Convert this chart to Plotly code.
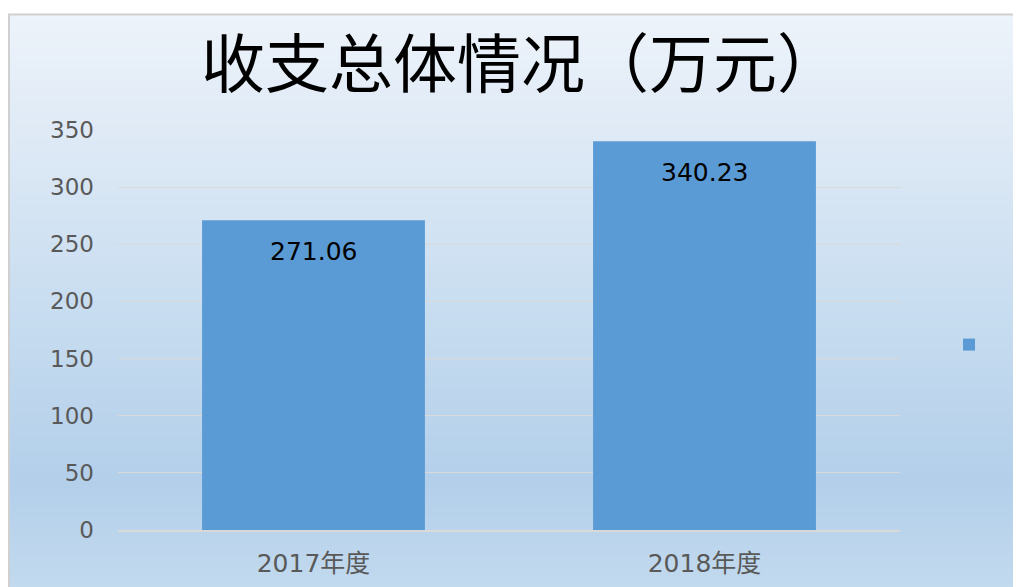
import base64
import struct
import zlib
import plotly.graph_objects as go

# ---- data ----
categories = ["2017年度", "2018年度"]
values = [271.06, 340.23]
value_labels = ["271.06", "340.23"]
y_ticks = [0, 50, 100, 150, 200, 250, 300, 350]
title_text = "收支总体情况（万元）"

# ---- styling ----
BAR_COLOR = "#5b9bd5"
GRID_COLOR = "#d9d9d9"
TICK_COLOR = "#595959"
W, H = 1021, 587
ML, MT = 110, 122
PW, PH = 782, 400
MR, MB = W - ML - PW, H - MT - PH


def px_to_paper_x(px):
    return (px - ML) / PW


def px_to_paper_y(py):
    return (MT + PH - py) / PH


# vertical gradient background (generated PNG)
stops = [(0.0, (0xed, 0xf3, 0xfa)), (0.2, (0xdf, 0xea, 0xf6)), (0.5, (0xc8, 0xdd, 0xf0)),
         (0.8, (0xb3, 0xcf, 0xea)), (1.0, (0xc4, 0xdb, 0xef))]


def grad_color(t):
    for (t0, c0), (t1, c1) in zip(stops[:-1], stops[1:]):
        if t0 <= t <= t1:
            f = (t - t0) / (t1 - t0)
            return tuple(int(round(a + (b - a) * f)) for a, b in zip(c0, c1))
    return stops[-1][1]


def make_png(nrows):
    raw = b""
    for i in range(nrows):
        c = grad_color(i / (nrows - 1))
        raw += b"\x00" + bytes(c) * 2

    def chunk(tag, data):
        return (struct.pack(">I", len(data)) + tag + data +
                struct.pack(">I", zlib.crc32(tag + data) & 0xffffffff))

    png = b"\x89PNG\r\n\x1a\n"
    png += chunk(b"IHDR", struct.pack(">IIBBBBB", 2, nrows, 8, 2, 0, 0, 0))
    png += chunk(b"IDAT", zlib.compress(raw, 9))
    png += chunk(b"IEND", b"")
    return "data:image/png;base64," + base64.b64encode(png).decode()


bg_top, bg_left = 6.5, 1
fig = go.Figure()
fig.add_trace(go.Bar(
    x=categories, y=values, marker=dict(color=BAR_COLOR, line=dict(width=0)),
    width=0.57, name=" ", showlegend=True, hoverinfo="x+y",
))

for c, v, lab in zip(categories, values, value_labels):
    fig.add_annotation(x=c, y=v, text=lab, showarrow=False, yshift=-31.5,
                       yanchor="middle", font=dict(family="DejaVu Sans", size=25, color="#000000"))

fig.add_layout_image(dict(
    source=make_png(300), xref="paper", yref="paper",
    x=px_to_paper_x(bg_left), y=px_to_paper_y(bg_top),
    sizex=(W + 5 - bg_left) / PW, sizey=(H + 5 - bg_top) / PH,
    sizing="stretch", layer="below", xanchor="left", yanchor="top",
))
fig.add_shape(type="rect", xref="paper", yref="paper",
              x0=px_to_paper_x(bg_left), x1=px_to_paper_x(W + 5),
              y0=px_to_paper_y(H + 5), y1=px_to_paper_y(bg_top),
              line=dict(color="#d0d0d0", width=2), fillcolor="rgba(0,0,0,0)", layer="below")

fig.update_layout(
    width=W, height=H,
    margin=dict(l=ML, r=MR, t=MT, b=MB, pad=0),
    paper_bgcolor="#ffffff", plot_bgcolor="rgba(0,0,0,0)",
    title=dict(text=title_text, x=513 / W, xanchor="center", y=1 - 57 / H, yanchor="middle",
               font=dict(family="Noto Sans CJK SC", size=64, color="#000000")),
    showlegend=True,
    legend=dict(x=px_to_paper_x(941), xanchor="left", y=px_to_paper_y(337), yanchor="middle",
                bgcolor="rgba(0,0,0,0)", font=dict(size=14)),
    bargap=0.43,
    font=dict(family="DejaVu Sans", color=TICK_COLOR),
)
fig.update_xaxes(
    range=[-0.5, 1.5], showgrid=False, showline=True, linecolor=GRID_COLOR, linewidth=1.5,
    ticks="", tickfont=dict(family="DejaVu Sans, Noto Sans CJK SC", size=25, color=TICK_COLOR),
    ticklabelstandoff=10, fixedrange=True,
)
fig.update_yaxes(
    range=[0, 350], tickvals=y_ticks, showgrid=True, gridcolor=GRID_COLOR, gridwidth=1,
    zeroline=False, showline=False, ticks="",
    tickfont=dict(family="DejaVu Sans", size=23, color=TICK_COLOR),
    ticklabelstandoff=23, fixedrange=True,
)

fig.write_html("out.html")
